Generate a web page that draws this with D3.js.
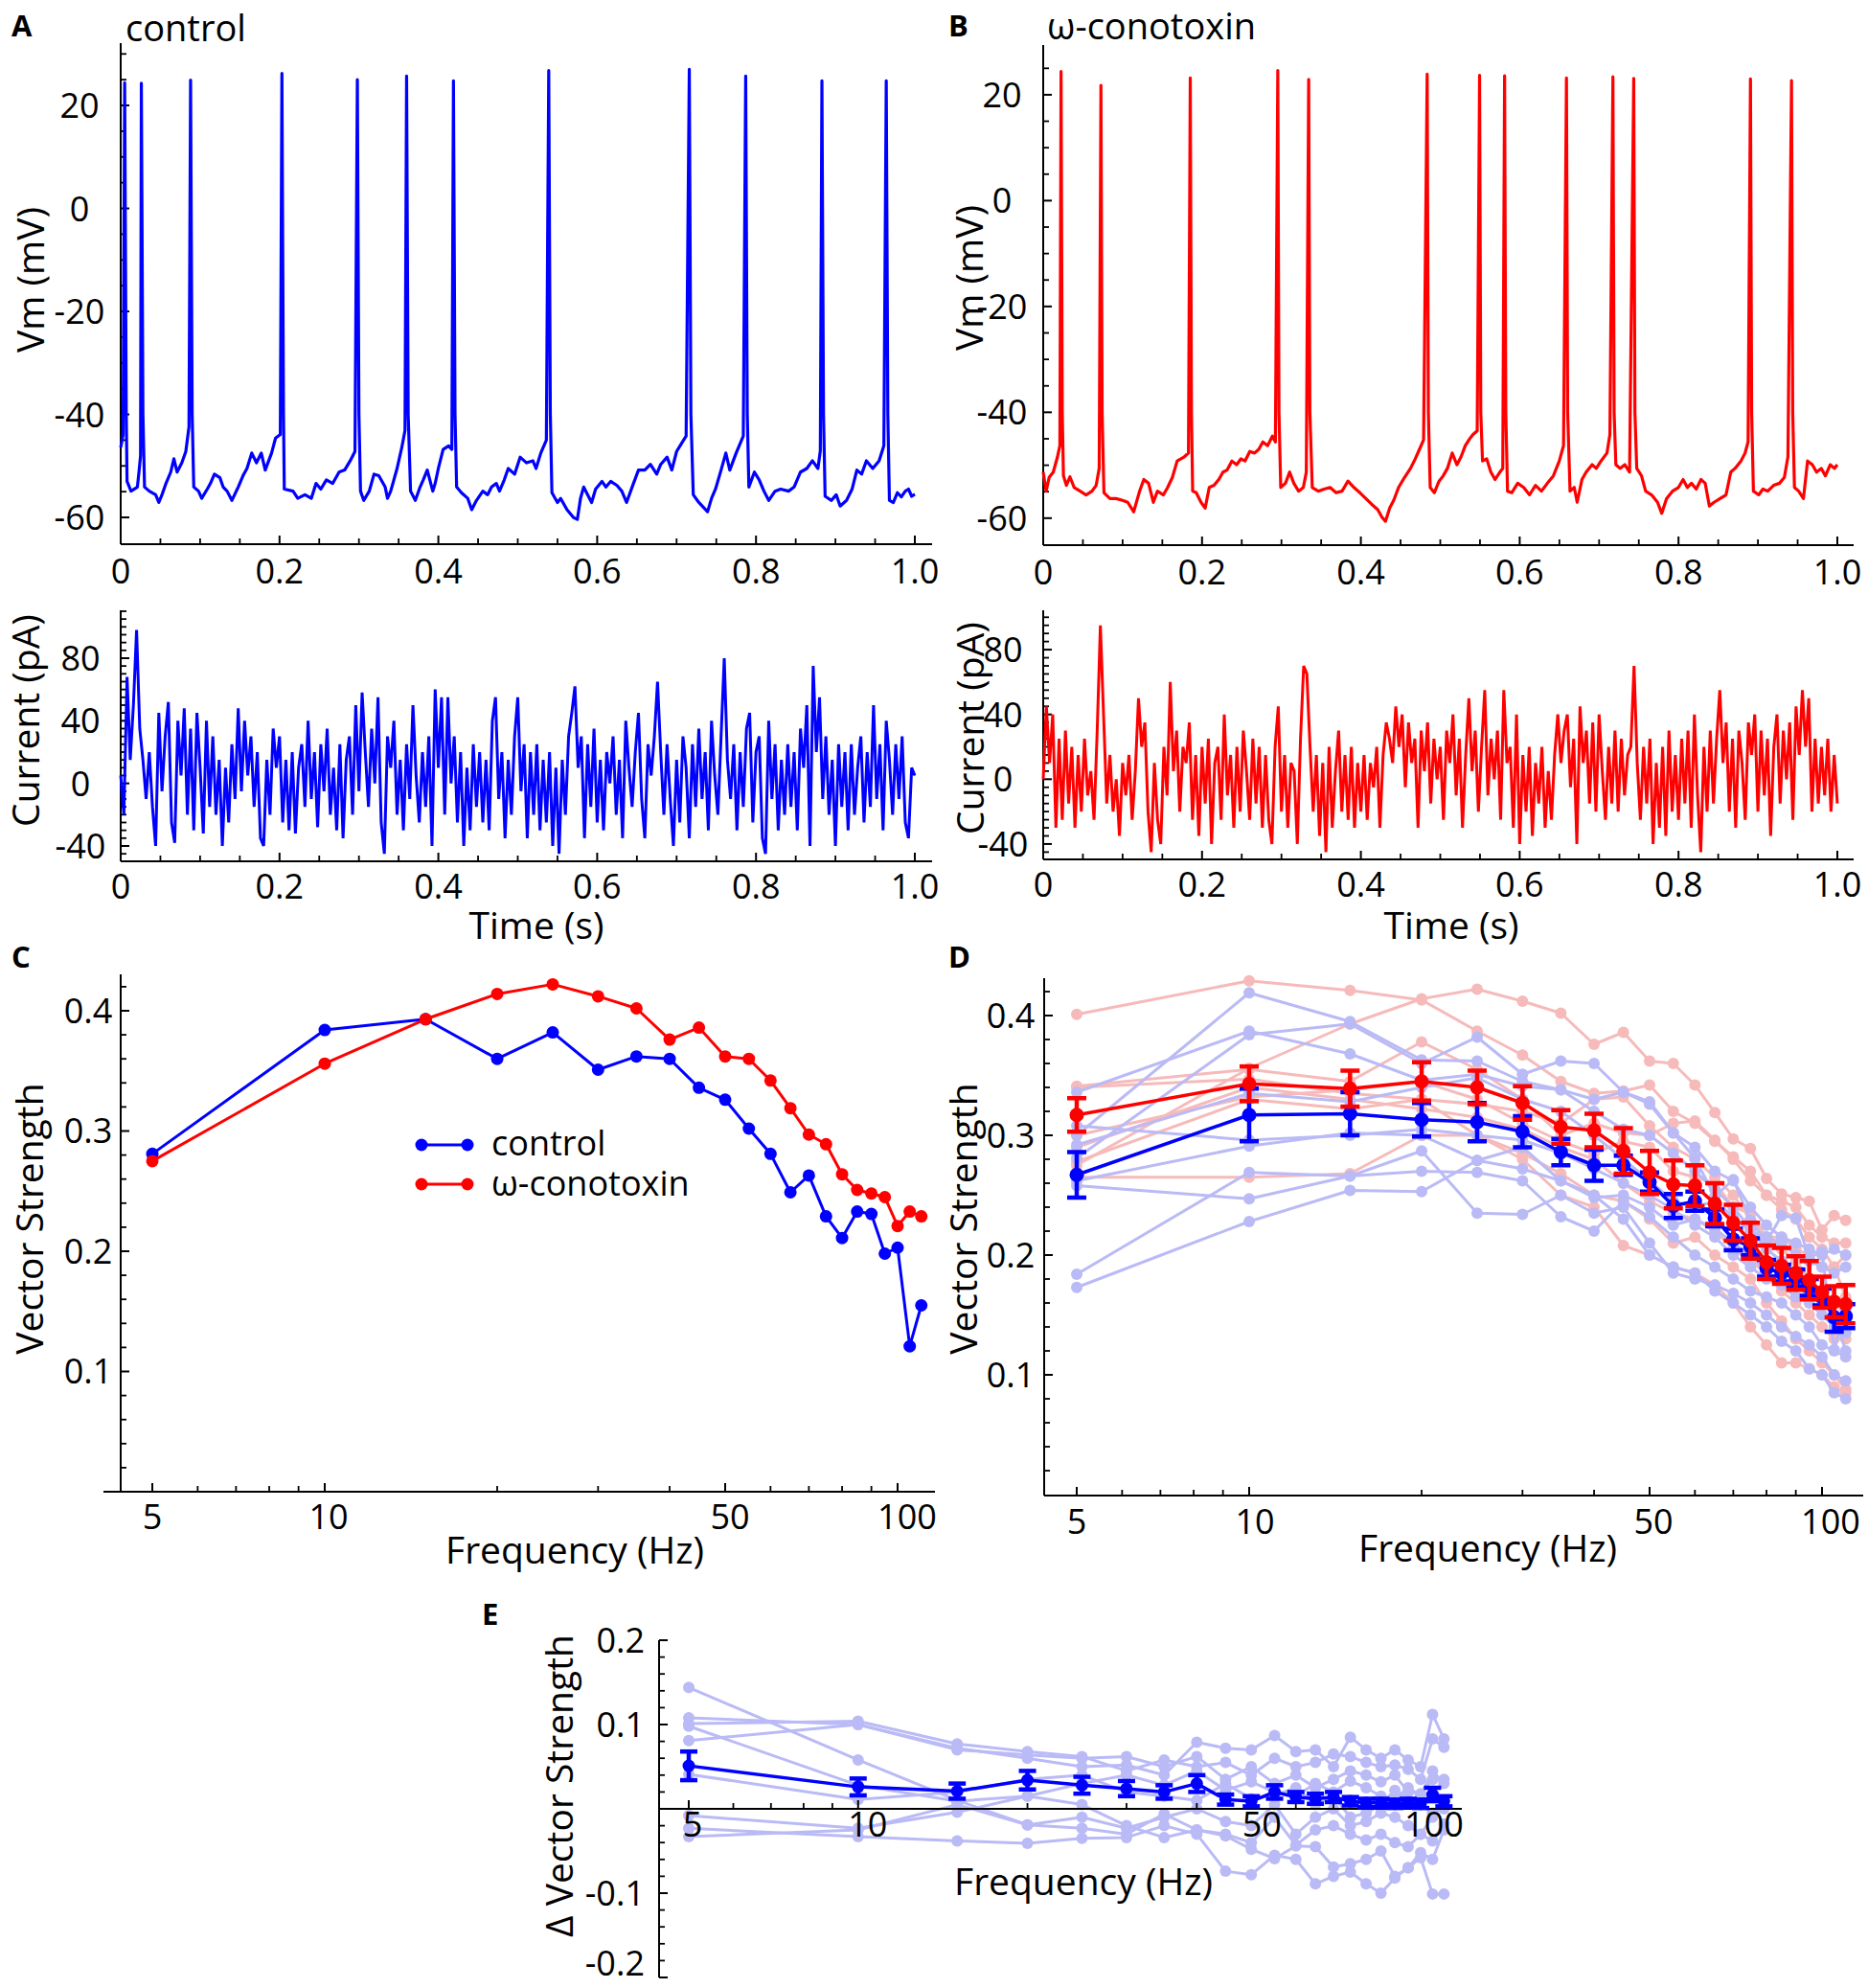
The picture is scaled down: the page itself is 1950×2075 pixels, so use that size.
<!DOCTYPE html>
<html>
<head>
<meta charset="utf-8">
<script src="https://cdn.jsdelivr.net/npm/d3@7"></script>
<style>
  body { margin: 0; background: #fff; }
  text { font-family: "Open Sans", "Noto Sans", sans-serif; fill: #000; }
</style>
</head>
<body>
<div id="chart"></div>
<script>
// ---------- data ----------
// membrane potential, [time (ms), Vm (mV)]
var vmControl = [
  [0,-46.4],[3,-44],[5,24.4],[7,-40],[8,-53.0],[13,-54.9],[21,-54.1],[23,-51.2],[25,-48],[26,24.3],[28,-40],[30,-54.1],
  [36,-54.9],[44,-55.6],[48,-57.1],[52,-55.6],[57,-53.4],[63,-51.2],[67,-48.6],[71,-51.2],[77,-49.4],[82,-47.2],[86,-42.4],[88,24.9],[90,-40],[92,-54.1],
  [98,-54.9],[102,-56.3],[109,-54.5],[113,-53.4],[118,-51.6],[125,-52.3],[129,-54.1],[134,-54.9],[140,-56.7],[148,-54.1],[154,-51.9],[159,-50.5],[165,-47.5],[171,-49.4],[177,-47.5],[182,-50.8],[190,-47.5],[195,-44.6],[201,-43.9],[203,26.2],[205,-40],[206,-54.5],
  [217,-54.9],[223,-56.3],[232,-55.6],[240,-56.3],[246,-53.4],[252,-54.5],[259,-52.7],[267,-53.4],[275,-51.2],[282,-50.8],[289,-49.0],[295,-47.2],[298,25.0],[300,-40],[302,-54.9],
  [306,-56.7],[313,-54.9],[319,-51.6],[325,-51.9],[333,-54.1],[336,-56.3],[340,-54.9],[348,-50.5],[354,-46.4],[358,-43.1],[360,25.7],[362,-40],[365,-54.9],
  [371,-56.7],[377,-54.1],[381,-52.7],[386,-50.8],[393,-54.9],[396,-53.4],[400,-50.5],[406,-46.8],[413,-46.1],[417,-46.8],[419,24.8],[421,-40],[423,-54.1],
  [429,-55.2],[437,-56.3],[442,-58.5],[448,-56.7],[456,-54.9],[462,-55.6],[467,-54.1],[473,-53.4],[477,-54.9],[483,-52.7],[488,-50.5],[496,-51.6],[503,-48.3],[511,-49.4],[519,-49.0],[523,-50.5],[529,-47.5],[536,-45.0],[539,26.8],[541,-40],[543,-55.2],
  [550,-57.1],[554,-56.3],[562,-58.5],[570,-60.0],[575,-60.4],[579,-56.3],[583,-54.1],[588,-55.6],[593,-57.1],[598,-54.5],[606,-53.0],[611,-54.1],[617,-53.0],[625,-53.8],[631,-54.9],[637,-57.1],[644,-54.1],[652,-50.8],[660,-50.8],[667,-49.7],[675,-51.6],[680,-49.7],[688,-48.3],[694,-50.8],[700,-47.2],[706,-45.7],[712,-44.2],[716,27.0],[718,-40],[721,-55.6],
  [728,-57.1],[739,-58.9],[744,-56.3],[749,-54.5],[756,-50.8],[762,-47.5],[767,-50.8],[775,-47.5],[784,-44.2],[787,25.7],[789,-40],[791,-54.1],
  [798,-51.2],[804,-52.7],[810,-54.9],[816,-56.7],[824,-54.9],[831,-54.5],[841,-54.9],[848,-54.1],[856,-51.2],[864,-50.5],[871,-49.0],[878,-50.5],[881,-47],[883,24.8],[885,-40],[887,-55.9],
  [895,-56.7],[901,-55.6],[906,-57.8],[914,-56.7],[921,-54.5],[927,-50.8],[933,-51.6],[939,-49.0],[947,-50.5],[955,-49.0],[961,-46.1],[964,24.8],[966,-40],[968,-56.7],
  [973,-57.1],[978,-55.2],[983,-56.0],[988,-54.9],[992,-54.5],[996,-55.9],[1000,-55.5]
];

var vmConotoxin = [
  [0,-51.3],[3.7,-54.9],[7.5,-52.3],[12.7,-51.3],[18.0,-48.4],[21.0,-46.3],[22.5,24.4],[24.0,-40],[25.5,-52.0],[29.2,-53.8],[33.7,-52.2],[39.0,-54.2],
  [46.5,-54.9],[54.0,-55.6],[61.5,-54.9],[66.7,-53.8],[70.5,-50.6],[72.7,21.8],[74.2,-40],[76.5,-55.2],[84.0,-56.3],[91.5,-56.3],[99.0,-56.6],
  [106.4,-57.0],[113.9,-58.8],[121.4,-54.9],[126.7,-52.7],[132.7,-53.4],[138.7,-57.0],[143.9,-54.9],[151.4,-55.6],[156.7,-54.2],[162.7,-52.3],
  [168.7,-49.2],[177.7,-48.4],[182.9,-47.7],[185.2,23.2],[186.7,-40],[188.2,-54.9],[192.7,-55.2],[198.7,-57.0],[203.9,-58.1],[209.1,-54.2],
  [215.1,-53.8],[221.1,-52.7],[226.4,-51.3],[231.6,-50.9],[237.6,-49.2],[243.6,-49.9],[248.9,-48.8],[254.1,-49.2],[260.1,-47.4],[266.1,-47.7],
  [271.4,-47.0],[276.6,-45.6],[282.6,-46.3],[288.6,-44.5],[292.4,-45.6],[295.4,24.6],[296.9,-40],[299.1,-54.2],[305.1,-53.4],[310.3,-51.3],
  [315.6,-53.4],[321.6,-54.9],[327.6,-54.2],[331.3,-51.3],[334.3,22.9],[335.8,-40],[338.8,-54.2],[346.3,-54.9],[353.8,-54.5],[361.3,-54.2],
  [368.8,-55.2],[376.3,-54.9],[383.8,-53.0],[391.3,-54.2],[398.8,-55.2],[406.3,-56.3],[413.8,-57.4],[421.3,-58.4],[426.5,-59.8],[431.0,-60.6],
  [436.3,-58.1],[441.5,-56.6],[447.5,-54.2],[455.0,-52.3],[462.5,-50.6],[468.5,-48.8],[473.8,-47.0],[479.0,-45.2],[483.5,23.9],[485.0,-40],
  [487.3,-54.2],[492.5,-55.2],[498.5,-53.0],[503.7,-52.0],[509.0,-50.6],[515.0,-47.7],[521.0,-49.9],[526.2,-48.4],[531.5,-46.3],[537.5,-44.9],
  [541.2,-44.2],[546.5,-43.5],[549.5,23.7],[551.0,-40],[553.2,-49.2],[558.5,-48.8],[563.7,-51.3],[569.0,-52.7],[575.0,-51.3],[578.7,-50.6],
  [581.0,23.6],[582.5,-40],[584.7,-54.9],[590.0,-55.2],[597.5,-53.4],[605.0,-54.2],[612.4,-55.6],[619.9,-53.8],[627.4,-54.9],[634.9,-53.4],
  [642.4,-52.0],[649.9,-49.2],[655.2,-46.3],[658.9,23.2],[660.4,-40],[663.4,-54.9],[668.7,-54.2],[672.4,-57.0],[678.4,-52.7],[683.7,-51.3],
  [691.2,-49.9],[696.4,-50.6],[702.4,-49.2],[709.9,-47.7],[713.6,-44.2],[717.4,23.4],[718.9,-40],[721.1,-49.9],[726.4,-50.6],[732.4,-49.9],
  [738.4,-51.3],[743.6,23.1],[745.1,-40],[747.4,-50.6],[753.4,-52.0],[758.6,-54.9],[766.1,-55.6],[773.6,-57.0],[778.9,-59.1],[784.9,-56.3],
  [792.4,-54.9],[799.9,-54.2],[805.8,-52.7],[811.1,-54.2],[816.3,-53.4],[822.3,-54.5],[828.3,-52.7],[833.6,-53.4],[838.8,-57.7],[844.8,-57.0],
  [852.3,-56.3],[859.8,-55.6],[865.8,-51.3],[871.1,-50.6],[878.6,-49.2],[883.8,-47.7],[887.6,-45.6],[890.6,23.0],[892.1,-40],[894.3,-54.9],
  [901.0,-55.6],[906.3,-54.5],[912.3,-54.9],[919.8,-53.8],[927.3,-53.4],[933.3,-52.3],[937.8,-48.4],[942.3,22.7],[943.8,-40],[946.0,-54.2],
  [951.3,-54.9],[957.3,-56.3],[962.5,-49.2],[968.5,-49.9],[973.8,-51.3],[979.8,-50.6],[985.0,-52.0],[991.0,-49.9],[996.3,-50.6],[1000,-49.9]
];

// injected current (pA), one sample every 4 ms from 0 to 1000 ms
var currentStep = 4;
var currentControl = [
  5,-20,68,15,50,98,35,15,-10,20,
  -15,-40,45,-5,30,52,-25,-38,40,5,
  48,-20,35,-30,45,10,-32,40,-15,30,
  -20,15,-40,10,-25,25,-10,48,-5,40,
  5,30,-15,20,-35,-40,15,-20,35,10,
  30,-25,15,-30,20,-32,10,25,-15,40,
  -10,20,-28,25,-5,35,-20,10,-30,25,
  -35,15,30,-20,50,-5,58,20,-15,35,
  0,55,-25,-45,30,10,40,-20,15,-30,
  25,-10,50,5,-25,20,-15,30,-40,60,
  10,55,-20,55,0,30,-25,20,-40,10,
  -30,25,-15,20,-25,15,-30,40,55,-10,
  20,-35,15,-20,30,55,-5,25,-35,20,
  -20,25,-30,15,-25,20,-40,10,-45,15,
  -20,30,45,62,10,30,-35,25,-15,35,
  -25,15,-30,20,0,30,-20,15,-35,40,
  10,-15,20,45,-10,-35,25,5,30,65,
  20,-20,25,-10,-40,15,-25,30,10,-35,
  25,-15,35,-10,20,-30,40,5,-20,30,
  80,15,-10,25,-30,20,-15,35,45,-25,
  20,30,-35,-45,40,-10,25,-30,15,-20,
  25,-15,20,-30,35,10,50,-40,75,20,
  55,-10,30,-20,15,-40,25,-15,20,-30,
  25,-20,10,30,-25,20,-15,50,-10,25,
  -30,40,15,-20,25,-10,30,-25,-35,10,
  5
];
var currentConotoxin = [
  0,45,10,40,-30,25,-25,30,-15,20,
  -30,15,-20,25,-10,5,-25,30,95,40,
  -15,15,-20,0,-35,10,-10,15,-25,5,
  50,20,35,-20,-45,10,-25,-40,20,-10,
  60,5,30,-20,20,10,35,-25,15,-35,
  20,-15,25,-40,10,20,-25,40,-10,15,
  -30,20,-20,30,5,-25,25,-15,20,-30,
  15,-25,-40,20,45,-20,15,-30,10,5,
  -40,25,70,65,20,-20,15,-35,10,-45,
  20,-30,5,30,-20,15,-25,20,-30,10,
  -20,15,-25,10,-5,20,-30,15,35,25,
  10,45,20,40,-5,35,10,25,-30,30,
  5,35,-15,25,0,20,-25,30,10,40,
  -10,25,-30,15,50,5,30,-20,20,55,
  -10,25,0,30,-25,55,10,20,-30,40,
  -40,15,-20,20,-35,10,-15,20,-30,5,
  -25,15,40,10,30,40,-5,25,-40,45,
  10,30,-15,35,-20,40,5,-25,20,-15,
  30,-20,25,-10,15,20,70,10,-25,20,
  -15,25,-40,10,-30,20,-35,30,-20,15,
  -25,25,-15,30,-30,40,-10,-45,20,-20,
  30,-15,25,55,10,35,-20,25,-30,30,
  10,-25,35,15,40,-20,30,-10,25,-35,
  20,40,-15,30,0,35,-25,45,15,55,
  20,50,-20,25,-15,20,-10,25,-20,15,
  -15
];

// vector strength vs stimulus frequency
var freqs = [5,10,15,20,25,30,35,40,45,50,55,60,65,70,75,80,85,90,95,100,105,110];

var vsControl   = [0.281,0.384,0.393,0.360,0.382,0.351,0.362,0.360,0.336,0.326,0.302,0.281,0.249,0.263,0.229,0.211,0.233,0.231,0.198,0.203,0.121,0.155];
var vsConotoxin = [0.275,0.356,0.393,0.414,0.422,0.412,0.402,0.376,0.386,0.362,0.360,0.342,0.319,0.297,0.289,0.264,0.251,0.248,0.245,0.221,0.233,0.229];

// individual cells, panel D
var cellsControl = [
  vsControl,
  [0.300,0.419,0.395,0.363,0.362,0.345,0.338,0.320,0.305,0.300,0.285,0.270,0.255,0.240,0.222,0.205,0.195,0.185,0.172,0.160,0.150,0.145],
  [0.336,0.387,0.368,0.346,0.351,0.341,0.338,0.330,0.336,0.328,0.302,0.290,0.270,0.262,0.240,0.225,0.215,0.210,0.205,0.200,0.205,0.200],
  [0.292,0.335,0.328,0.340,0.348,0.330,0.320,0.300,0.280,0.262,0.245,0.240,0.245,0.232,0.220,0.215,0.210,0.200,0.195,0.190,0.185,0.190],
  [0.308,0.296,0.300,0.305,0.300,0.296,0.285,0.272,0.260,0.250,0.238,0.225,0.215,0.200,0.190,0.180,0.175,0.165,0.160,0.150,0.140,0.135],
  [0.262,0.291,0.302,0.300,0.279,0.290,0.262,0.248,0.250,0.240,0.225,0.230,0.222,0.210,0.200,0.185,0.180,0.175,0.165,0.160,0.150,0.120],
  [0.258,0.247,0.266,0.270,0.269,0.262,0.232,0.220,0.245,0.232,0.215,0.200,0.190,0.180,0.170,0.165,0.160,0.150,0.140,0.125,0.120,0.115],
  [0.184,0.269,0.266,0.287,0.235,0.234,0.250,0.235,0.240,0.210,0.185,0.180,0.175,0.168,0.160,0.150,0.140,0.132,0.125,0.115,0.100,0.095],
  [0.173,0.228,0.254,0.253,0.279,0.272,0.262,0.250,0.230,0.200,0.190,0.185,0.170,0.160,0.150,0.140,0.128,0.120,0.105,0.100,0.085,0.080]
];
var cellsConotoxin = [
  vsConotoxin,
  [0.401,0.429,0.421,0.413,0.387,0.367,0.345,0.335,0.337,0.342,0.320,0.310,0.295,0.282,0.270,0.250,0.245,0.240,0.225,0.215,0.210,0.210],
  [0.341,0.355,0.345,0.378,0.355,0.330,0.300,0.310,0.302,0.300,0.310,0.312,0.296,0.280,0.262,0.250,0.238,0.230,0.215,0.205,0.190,0.165],
  [0.340,0.347,0.335,0.330,0.326,0.320,0.310,0.330,0.332,0.308,0.290,0.280,0.265,0.250,0.230,0.215,0.205,0.195,0.180,0.170,0.160,0.150],
  [0.290,0.340,0.330,0.322,0.315,0.305,0.290,0.280,0.260,0.245,0.235,0.230,0.220,0.205,0.195,0.185,0.170,0.160,0.150,0.140,0.130,0.130],
  [0.278,0.330,0.322,0.330,0.300,0.285,0.268,0.250,0.245,0.230,0.210,0.215,0.200,0.190,0.180,0.160,0.145,0.130,0.120,0.110,0.100,0.088],
  [0.265,0.265,0.268,0.300,0.300,0.280,0.250,0.240,0.208,0.200,0.190,0.185,0.175,0.160,0.140,0.125,0.110,0.110,0.105,0.100,0.090,0.085],
  [0.300,0.332,0.338,0.345,0.330,0.310,0.295,0.285,0.295,0.290,0.270,0.265,0.260,0.240,0.235,0.215,0.215,0.205,0.200,0.190,0.190,0.200]
];

// mean +/- SEM, panel D
var meanControl   = [0.267,0.317,0.318,0.313,0.311,0.303,0.286,0.275,0.275,0.261,0.241,0.245,0.231,0.213,0.207,0.189,0.185,0.181,0.173,0.165,0.148,0.149];
var semControl    = [0.019,0.022,0.018,0.014,0.016,0.013,0.011,0.013,0.008,0.008,0.010,0.008,0.007,0.009,0.007,0.007,0.007,0.007,0.007,0.007,0.012,0.010];
var meanConotoxin = [0.317,0.343,0.339,0.345,0.340,0.327,0.307,0.304,0.287,0.269,0.259,0.258,0.243,0.227,0.212,0.194,0.191,0.185,0.179,0.169,0.161,0.159];
var semConotoxin  = [0.014,0.0145,0.015,0.016,0.014,0.014,0.014,0.014,0.019,0.018,0.020,0.017,0.017,0.015,0.015,0.014,0.015,0.014,0.016,0.013,0.013,0.016];

// panel E: change in vector strength per cell, and mean +/- SEM
var deltaCells = [
  [0.144,0.058,0.010,-0.019,-0.023,-0.030,-0.006,-0.025,-0.030,-0.040,-0.010,-0.043,-0.025,-0.020,-0.030,-0.037,-0.030,-0.040,-0.045,-0.030,-0.038,-0.018],
  [0.108,0.100,0.072,0.060,0.050,0.052,0.040,0.079,0.072,0.070,0.087,0.068,0.070,0.050,0.085,0.070,0.060,0.070,0.058,0.050,0.112,0.083],
  [0.101,0.104,0.077,0.068,0.062,0.045,0.058,0.050,0.055,0.040,0.060,0.050,0.055,0.065,0.062,0.055,0.050,0.052,0.047,0.035,0.083,0.073],
  [0.081,0.100,0.070,0.064,0.060,0.062,0.050,0.062,0.035,0.050,0.030,0.040,0.025,0.035,0.045,0.040,0.032,0.040,0.020,0.018,0.035,0.035],
  [0.098,0.028,0.009,0.015,0.030,0.040,0.028,0.045,0.022,0.032,0.020,0.015,0.030,0.020,0.033,0.025,0.015,0.012,0.025,0.016,0.045,0.030],
  [0.041,0.011,0.020,0.035,0.040,0.020,0.015,0.010,0.030,0.012,0.016,0.025,0.005,0.015,-0.010,-0.005,0.005,0.022,0.010,0.005,-0.005,0.000],
  [-0.008,-0.023,-0.004,0.015,0.005,-0.020,-0.034,-0.025,-0.032,-0.048,-0.059,-0.044,-0.045,-0.069,-0.065,-0.060,-0.050,-0.080,-0.070,-0.052,-0.060,-0.025],
  [-0.023,-0.033,-0.038,-0.041,-0.035,-0.034,-0.020,-0.030,-0.074,-0.078,-0.055,-0.060,-0.089,-0.080,-0.075,-0.089,-0.100,-0.082,-0.070,-0.058,-0.101,-0.101],
  [-0.033,-0.025,0.005,-0.019,-0.010,-0.023,-0.010,0.000,-0.015,-0.020,0.005,-0.030,-0.010,0.000,-0.020,-0.015,-0.005,-0.010,-0.020,-0.030,-0.010,0.010]
];
var deltaMean = [0.051,0.026,0.021,0.034,0.028,0.024,0.020,0.030,0.011,0.009,0.020,0.014,0.012,0.014,0.009,0.007,0.007,0.006,0.007,0.006,0.017,0.009];
var deltaSem  = [0.017,0.010,0.009,0.011,0.010,0.009,0.008,0.010,0.006,0.006,0.008,0.006,0.006,0.006,0.005,0.005,0.005,0.005,0.005,0.005,0.008,0.006];

// tick labels
var timeTicks = [0, 200, 400, 600, 800, 1000];
var vmTicks = [-60, -40, -20, 0, 20];
var currentTicks = [-40, 0, 40, 80];
var vsTicks = [0.1, 0.2, 0.3, 0.4];
var deltaTicks = [-0.2, -0.1, 0.1, 0.2];
var freqTicks = [5, 10, 50, 100];
var freqMinor = [6, 7, 8, 9, 20, 30, 40, 60, 70, 80, 90];

// ---------- drawing ----------
var BLUE = "#0000ff", RED = "#ff0000", LBLUE = "#babaf6", LRED = "#f7baba";

var svg = d3.select("#chart")
  .append("svg")
  .attr("width", 1950)
  .attr("height", 2075);

function seg(x1, y1, x2, y2, w) {
  svg.append("line")
    .attr("x1", x1).attr("y1", y1).attr("x2", x2).attr("y2", y2)
    .attr("stroke", "#000").attr("stroke-width", w || 2);
}

function label(x, y, str, size, anchor, weight) {
  return svg.append("text")
    .attr("x", x).attr("y", y)
    .attr("font-size", size)
    .attr("text-anchor", anchor || "start")
    .attr("font-weight", weight || "normal")
    .text(str);
}

function vlabel(cx, cy, str) {
  svg.append("text")
    .attr("transform", "translate(" + cx + "," + cy + ") rotate(-90)")
    .attr("dy", "0.35em")
    .attr("text-anchor", "middle")
    .attr("font-size", 39)
    .text(str);
}

// y axis with inward ticks; shift moves a label off its tick (px)
function yAxis(x0, top, bottom, y, majors, minors, fmt, lx, anchor, shift) {
  seg(x0, top, x0, bottom, 2);
  minors.forEach(function (v) { seg(x0, y(v), x0 + 6, y(v), 1.8); });
  majors.forEach(function (v, i) {
    seg(x0, y(v), x0 + 9, y(v), 2);
    svg.append("text")
      .attr("x", lx).attr("y", y(v) + (shift ? shift[i] : 0)).attr("dy", "0.36em")
      .attr("text-anchor", anchor).attr("font-size", 36)
      .text(fmt(v));
  });
}

// x axis with inward ticks
function xAxis(y0, left, right, x, majors, minors, fmt, ly, dx) {
  seg(left, y0, right, y0, 2);
  minors.forEach(function (v) { seg(x(v), y0, x(v), y0 - 6, 1.8); });
  majors.forEach(function (v, i) {
    seg(x(v), y0, x(v), y0 - 9, 2);
    svg.append("text")
      .attr("x", x(v) + (dx ? dx[i] : 0)).attr("y", y0 + ly)
      .attr("text-anchor", "middle").attr("font-size", 36)
      .text(fmt(v));
  });
}

var fmtTime = function (d) { return d === 0 ? "0" : (d / 1000).toFixed(1); };
var fmtInt = function (d) { return String(d); };
var fmtVs = function (d) { return d.toFixed(1); };

// --- panels A and B: traces ---
var xA = d3.scaleLinear().domain([0, 1000]).range([126, 955]);
var xB = d3.scaleLinear().domain([0, 1000]).range([1089, 1918]);
var yVmA = d3.scaleLinear().domain([-65.2, 32.1]).range([568, 45]);
var yVmB = d3.scaleLinear().domain([-65.1, 29.4]).range([569, 47]);
var yIA = d3.scaleLinear().domain([-49.8, 110.6]).range([899, 637]);
var yIB = d3.scaleLinear().domain([-49.5, 104.3]).range([897, 637]);

var timeMinor = d3.range(50, 1000, 50).filter(function (d) { return d % 200 !== 0; });

function traceAxes(x, yVm, yI, x0, vmTop, vmBot, iTop, iBot, right) {
  yAxis(x0, vmTop, vmBot, yVm, vmTicks,
    d3.range(-60, yVm.domain()[1], 5).filter(function (d) { return vmTicks.indexOf(d) < 0; }),
    fmtInt, x0 - 43, "middle");
  xAxis(vmBot, x0, right, x, timeTicks, timeMinor, fmtTime, 41);
  yAxis(x0, iTop, iBot, yI, currentTicks,
    d3.range(-45, yI.domain()[1], 5).filter(function (d) { return currentTicks.indexOf(d) < 0; }),
    fmtInt, x0 - 42, "middle");
  xAxis(iBot, x0, right, x, timeTicks, timeMinor, fmtTime, 39);
}

traceAxes(xA, yVmA, yIA, 126, 45, 568, 637, 899, 973);
traceAxes(xB, yVmB, yIB, 1089, 47, 569, 637, 897, 1935);

svg.append("path").datum(vmControl)
  .attr("fill", "none").attr("stroke", BLUE).attr("stroke-width", 3.2).attr("stroke-linejoin", "round")
  .attr("d", d3.line().x(function (d) { return xA(d[0]); }).y(function (d) { return yVmA(d[1]); }));
svg.append("path").datum(vmConotoxin)
  .attr("fill", "none").attr("stroke", RED).attr("stroke-width", 3.2).attr("stroke-linejoin", "round")
  .attr("d", d3.line().x(function (d) { return xB(d[0]); }).y(function (d) { return yVmB(d[1]); }));
svg.append("path").datum(currentControl)
  .attr("fill", "none").attr("stroke", BLUE).attr("stroke-width", 3)
  .attr("d", d3.line().x(function (d, i) { return xA(i * currentStep); }).y(function (d) { return yIA(d); }));
svg.append("path").datum(currentConotoxin)
  .attr("fill", "none").attr("stroke", RED).attr("stroke-width", 3)
  .attr("d", d3.line().x(function (d, i) { return xB(i * currentStep); }).y(function (d) { return yIB(d); }));

label(12, 38, "A", 31, "start", "bold");
label(990, 38, "B", 31, "start", "bold");
label(131, 43, "control", 38);
label(1093, 41, "\u03c9-conotoxin", 38);
vlabel(32, 292, "Vm (mV)");
vlabel(1012, 290, "Vm (mV)");
vlabel(27, 752, "Current (pA)");
vlabel(1013, 760, "Current (pA)");
label(560, 980, "Time (s)", 39, "middle");
label(1515, 980, "Time (s)", 39, "middle");

// --- frequency panels ---
function series(x, y, vals, color, w, r) {
  svg.append("path").datum(vals)
    .attr("fill", "none").attr("stroke", color).attr("stroke-width", w).attr("stroke-linejoin", "round")
    .attr("d", d3.line().x(function (d, i) { return x(freqs[i]); }).y(function (d) { return y(d); }));
  svg.append("g").selectAll("circle").data(vals).enter().append("circle")
    .attr("cx", function (d, i) { return x(freqs[i]); })
    .attr("cy", function (d) { return y(d); })
    .attr("r", r).attr("fill", color);
}

function errorBars(x, y, vals, errs, color, cap) {
  var g = svg.append("g").attr("stroke", color).attr("stroke-width", 4.5);
  vals.forEach(function (v, i) {
    var cx = x(freqs[i]), lo = y(v - errs[i]), hi = y(v + errs[i]);
    g.append("line").attr("x1", cx).attr("x2", cx).attr("y1", lo).attr("y2", hi);
    g.append("line").attr("x1", cx - cap).attr("x2", cx + cap).attr("y1", lo).attr("y2", lo);
    g.append("line").attr("x1", cx - cap).attr("x2", cx + cap).attr("y1", hi).attr("y2", hi);
  });
}

var vsMinor = d3.range(1, 22).map(function (d) { return d * 0.02; })
  .filter(function (d) { return Math.abs(d * 10 - Math.round(d * 10)) > 1e-6; });

// C
var xC = d3.scaleLog().domain([5, 100]).range([159, 937]);
var yC = d3.scaleLinear().domain([0, 0.4]).range([1557, 1055]);
yAxis(126, 1017, 1557, yC, vsTicks, vsMinor, fmtVs, 92, "middle");
xAxis(1557, 108, 976, xC, freqTicks, freqMinor, fmtInt, 39, [0, 4, 5, 10]);
series(xC, yC, vsControl, BLUE, 3, 6.5);
series(xC, yC, vsConotoxin, RED, 3, 6.5);

// legend
[["control", BLUE, 1195, 1206], ["\u03c9-conotoxin", RED, 1236, 1248]].forEach(function (l) {
  svg.append("line").attr("x1", 440).attr("x2", 488).attr("y1", l[2]).attr("y2", l[2])
    .attr("stroke", l[1]).attr("stroke-width", 3);
  svg.append("circle").attr("cx", 440).attr("cy", l[2]).attr("r", 6.5).attr("fill", l[1]);
  svg.append("circle").attr("cx", 488).attr("cy", l[2]).attr("r", 6.5).attr("fill", l[1]);
  label(513, l[3], l[0], 36);
});

label(12, 1010, "C", 31, "start", "bold");
vlabel(31, 1272, "Vector Strength");
label(600, 1632, "Frequency (Hz)", 39, "middle");

// D
var xD = d3.scaleLog().domain([5, 100]).range([1124, 1902]);
var yD = d3.scaleLinear().domain([0, 0.4]).range([1560, 1060]);
yAxis(1090, 1021, 1561, yD, vsTicks, vsMinor, fmtVs, 1055, "middle");
xAxis(1561, 1090, 1945, xD, freqTicks, freqMinor, fmtInt, 40, [0, 6, 4, 9]);
cellsConotoxin.forEach(function (c) { series(xD, yD, c, LRED, 3, 6); });
cellsControl.forEach(function (c) { series(xD, yD, c, LBLUE, 3, 6); });
errorBars(xD, yD, meanControl, semControl, BLUE, 10);
series(xD, yD, meanControl, BLUE, 3.5, 7.5);
errorBars(xD, yD, meanConotoxin, semConotoxin, RED, 10);
series(xD, yD, meanConotoxin, RED, 3.5, 7.5);

label(990, 1010, "D", 31, "start", "bold");
vlabel(1006, 1272, "Vector Strength");
label(1553, 1630, "Frequency (Hz)", 39, "middle");

// E
var xE = d3.scaleLog().domain([5, 100]).range([719, 1483]);
var yE = d3.scaleLinear().domain([-0.2, 0.2]).range([2064, 1712]);
var deltaMinor = d3.range(-9, 10).map(function (d) { return d * 0.02; })
  .filter(function (d) { return Math.abs(d) > 1e-6 && Math.abs(Math.abs(d) - 0.1) > 1e-6; });
yAxis(688, 1712, 2064, yE, deltaTicks, deltaMinor, fmtVs, 673, "end", [-15, 0, 0, 0]);
deltaCells.forEach(function (c) { series(xE, yE, c, LBLUE, 3, 6); });
xAxis(yE(0), 688, 1526, xE, freqTicks, freqMinor, fmtInt, 29, [4, 10, 11, 14]);
errorBars(xE, yE, deltaMean, deltaSem, BLUE, 9);
series(xE, yE, deltaMean, BLUE, 3.5, 6.5);

label(503, 1696, "E", 31, "start", "bold");
vlabel(584, 1864, "\u0394 Vector Strength");
label(1131, 1978, "Frequency (Hz)", 39, "middle");
</script>
</body>
</html>
